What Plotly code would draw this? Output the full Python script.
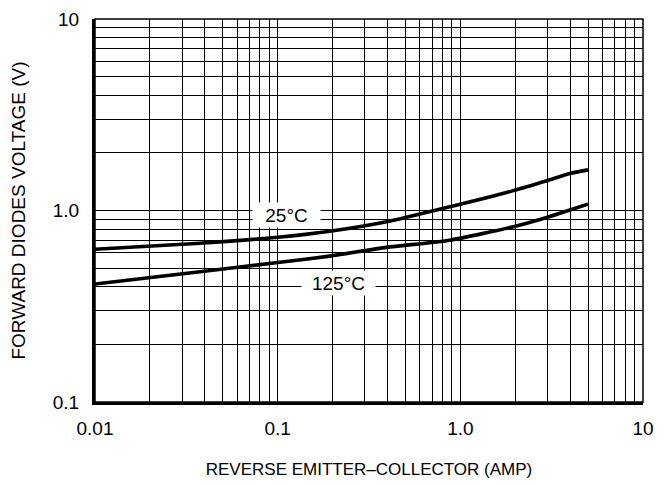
import math
import plotly.graph_objects as go

# Data
current_a = [0.01, 0.0376, 0.1, 0.193, 0.395, 0.877, 1.95, 2.97, 3.98, 5.0]
vf_25c = [0.627, 0.674, 0.725, 0.78, 0.874, 1.047, 1.27, 1.43, 1.56, 1.63]
vf_125c = [0.413, 0.479, 0.535, 0.578, 0.642, 0.70, 0.823, 0.92, 1.006, 1.08]

x_tick_vals = [0.01, 0.1, 1, 10]
x_tick_text = ["0.01", "0.1", "1.0", "10"]
y_tick_vals = [0.1, 1, 10]
y_tick_text = ["0.1", "1.0", "10"]

# curve labels: (text, current A, voltage V)
curve_labels = [("25°C", 0.1118, 0.942), ("125°C", 0.2153, 0.418)]
label_widths = [67, 73]

def minors(decades):
    vals = []
    for d in decades:
        for m in range(2, 10):
            vals.append(m * d)
    return vals

FONT = "Liberation Sans, Arial, sans-serif"

fig = go.Figure()
for ys in (vf_25c, vf_125c):
    fig.add_trace(go.Scatter(x=current_a, y=ys, mode="lines",
                             line=dict(color="black", width=3.6, shape="spline", smoothing=0.6),
                             showlegend=False, hoverinfo="skip"))

for (txt, lx, ly), w in zip(curve_labels, label_widths):
    fig.add_annotation(x=math.log10(lx), y=math.log10(ly), xref="x", yref="y",
                       text=txt, showarrow=False,
                       font=dict(family=FONT, size=19, color="black"),
                       bgcolor="white", width=w, height=24, borderpad=0)

fig.update_xaxes(type="log", range=[-2, 1],
                 tickmode="array", tickvals=x_tick_vals, ticktext=x_tick_text,
                 showgrid=True, gridcolor="black", gridwidth=1,
                 minor=dict(tickmode="array", tickvals=minors([0.01, 0.1, 1]),
                            showgrid=True, gridcolor="black", gridwidth=1, ticks=""),
                 showline=True, linecolor="black", linewidth=3,
                 ticks="", ticklabelstandoff=7,
                 tickfont=dict(family=FONT, size=19, color="black"),
                 title=dict(text="REVERSE EMITTER\u2013COLLECTOR (AMP)", standoff=26,
                            font=dict(family=FONT, size=17, color="black")),
                 zeroline=False)
fig.update_yaxes(type="log", range=[-1, 1],
                 tickmode="array", tickvals=y_tick_vals, ticktext=y_tick_text,
                 showgrid=True, gridcolor="black", gridwidth=1,
                 minor=dict(tickmode="array", tickvals=minors([0.1, 1]),
                            showgrid=True, gridcolor="black", gridwidth=1, ticks=""),
                 showline=True, linecolor="black", linewidth=3,
                 ticks="", ticklabelstandoff=9,
                 tickfont=dict(family=FONT, size=19, color="black"),
                 title=dict(text="FORWARD DIODES VOLTAGE (V)", standoff=26,
                            font=dict(family=FONT, size=19, color="black")),
                 zeroline=False)

fig.add_shape(type="rect", xref="paper", yref="paper", x0=0, y0=0, x1=1, y1=1,
              line=dict(color="black", width=1.5), layer="above")

# page body adds an 8px margin; size the figure so the plot area lands where the reference has it
fig.update_layout(width=661, height=477,
                  margin=dict(l=87, r=26, t=11, b=83, autoexpand=False),
                  paper_bgcolor="white", plot_bgcolor="white",
                  font=dict(family=FONT, color="black"))

fig.write_html("out.html")
